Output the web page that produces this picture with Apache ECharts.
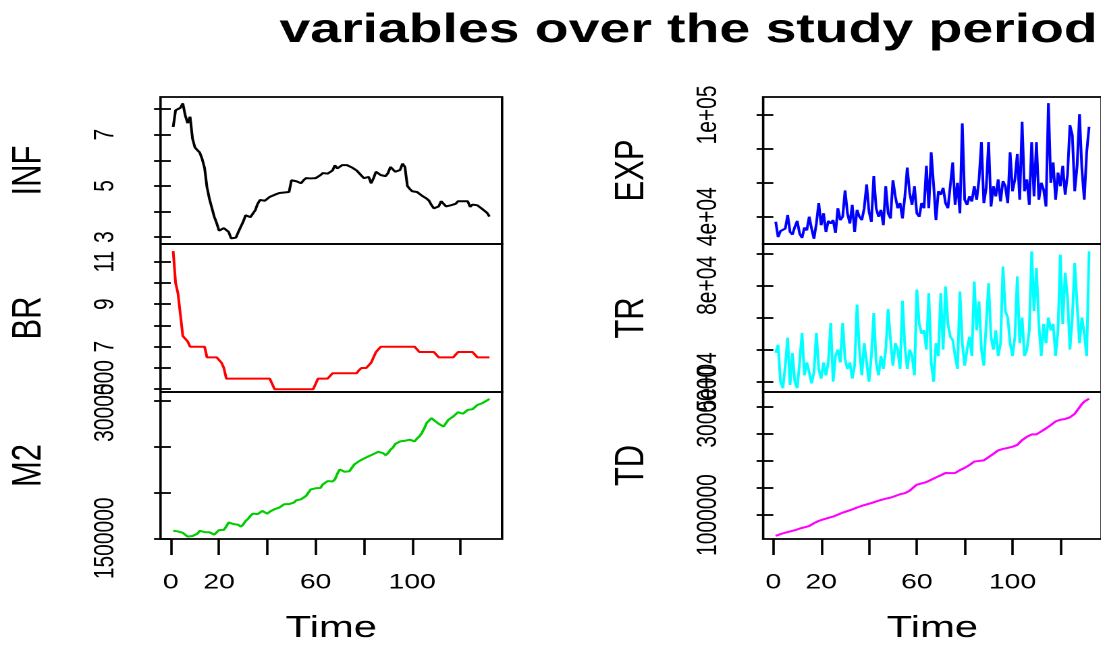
<!DOCTYPE html>
<html lang="en">
<head>
<meta charset="UTF-8">
<title>variables over the study period</title>
<script src="https://cdn.jsdelivr.net/npm/echarts@6/dist/echarts.min.js"></script>
<style>
    html, body { margin: 0; padding: 0; overflow: hidden; background: #fff; }
    /* the original R device output is stretched sideways, so draw narrow and widen */
    #main { width: 816px; height: 645px; transform: scaleX(1.35); transform-origin: 0 0; }
</style>
</head>
<body>
<div id="main"></div>
<script type="text/javascript">
    // monthly series, t = 1..132
    var INF = [7.3, 7.95, 8.0, 8.05, 8.22, 7.75, 7.45, 7.7, 6.85, 6.5, 6.4, 6.3,
        6.05, 5.7, 4.95, 4.5, 4.15, 3.8, 3.55, 3.25, 3.2, 3.35, 3.4, 3.2,
        2.95, 2.92, 2.98, 3.2, 3.4, 3.6, 3.85, 3.78, 3.78, 3.78, 4.05, 4.3,
        4.45, 4.4, 4.42, 4.45, 4.57, 4.6, 4.65, 4.7, 4.72, 4.74, 4.74, 4.74,
        4.76, 5.22, 5.15, 5.18, 5.13, 5.1, 5.22, 5.3, 5.35, 5.29, 5.35, 5.3,
        5.32, 5.42, 5.5, 5.55, 5.48, 5.55, 5.6, 5.8, 5.68, 5.75, 5.81, 5.81,
        5.81, 5.81, 5.72, 5.68, 5.6, 5.55, 5.4, 5.3, 5.3, 5.35, 5.1, 5.3,
        5.55, 5.6, 5.42, 5.42, 5.38, 5.5, 5.74, 5.74, 5.55, 5.58, 5.62, 5.87,
        5.74, 5.0, 4.88, 4.79, 4.77, 4.76, 4.7, 4.62, 4.57, 4.5, 4.42, 4.25,
        4.12, 4.05, 4.2, 4.4, 4.3, 4.2, 4.2, 4.24, 4.18, 4.3, 4.4, 4.4,
        4.4, 4.4, 4.4, 4.18, 4.27, 4.24, 4.24, 4.24, 4.1, 4.05, 3.95, 3.8];

    var BR = [11.5, 10, 9.5, 8.5, 7.5, 7.5, 7.25, 7, 7, 7, 7, 7,
        7, 7, 6.5, 6.5, 6.5, 6.5, 6.5, 6.5, 6.25, 6, 5.5, 5.5,
        5.5, 5.5, 5.5, 5.5, 5.5, 5.5, 5.5, 5.5, 5.5, 5.5, 5.5, 5.5,
        5.5, 5.5, 5.5, 5.5, 5.5, 5.5, 5, 5, 5, 5, 5, 5,
        5, 5, 5, 5, 5, 5, 5, 5, 5, 5, 5, 5.25,
        5.5, 5.5, 5.5, 5.5, 5.5, 5.5, 5.75, 5.75, 5.75, 5.75, 5.75, 5.75,
        5.75, 5.75, 5.75, 5.75, 5.75, 5.9, 6, 6, 6, 6, 6.25, 6.5,
        6.75, 6.75, 7, 7, 7, 7, 7, 7, 7, 7, 7, 7,
        7, 7, 7, 7, 7, 7, 6.75, 6.75, 6.75, 6.75, 6.75, 6.75,
        6.75, 6.75, 6.5, 6.5, 6.5, 6.5, 6.5, 6.5, 6.5, 6.5, 6.75, 6.75,
        6.75, 6.75, 6.75, 6.75, 6.75, 6.75, 6.5, 6.5, 6.5, 6.5, 6.5, 6.5];

    var M2 = [1582000, 1580000, 1575000, 1583000, 1560000, 1545000, 1518000, 1534000, 1525000, 1511000, 1550000, 1582000,
        1566000, 1568000, 1565000, 1566000, 1566000, 1540000, 1560000, 1590000, 1588000, 1592000, 1630000, 1673000,
        1662000, 1655000, 1652000, 1648000, 1626000, 1650000, 1690000, 1712000, 1745000, 1770000, 1782000, 1764000,
        1785000, 1799000, 1780000, 1768000, 1790000, 1799000, 1818000, 1810000, 1836000, 1830000, 1872000, 1866000,
        1874000, 1882000, 1890000, 1915000, 1910000, 1926000, 1945000, 1962000, 1999000, 2034000, 2045000, 2046000,
        2044000, 2050000, 2089000, 2100000, 2125000, 2106000, 2120000, 2143000, 2205000, 2252000, 2235000, 2227000,
        2226000, 2232000, 2252000, 2306000, 2320000, 2342000, 2355000, 2371000, 2380000, 2396000, 2410000, 2420000,
        2433000, 2445000, 2450000, 2430000, 2407000, 2430000, 2468000, 2490000, 2530000, 2540000, 2558000, 2562000,
        2565000, 2570000, 2577000, 2565000, 2558000, 2590000, 2613000, 2650000, 2700000, 2760000, 2776000, 2812000,
        2790000, 2776000, 2750000, 2740000, 2720000, 2704000, 2794000, 2810000, 2830000, 2850000, 2877000, 2884000,
        2860000, 2840000, 2902000, 2921000, 2910000, 2902000, 2956000, 2962000, 2975000, 2990000, 3005000, 3022000];

    var EXP = [37000, 28000, 31500, 31000, 33000, 41000, 31000, 29500, 34000, 37500, 30000, 27500,
        33500, 32000, 40000, 33000, 27000, 36000, 48000, 35000, 42000, 31000, 37500, 36000,
        38000, 30500, 45000, 38000, 40000, 55500, 42000, 36000, 47000, 31000, 44000, 40000,
        38000, 45000, 59000, 43000, 37000, 64000, 45000, 40000, 44000, 35000, 58000, 42000,
        39000, 61500, 52000, 45000, 48000, 39000, 52000, 69000, 54000, 47000, 58000, 42000,
        40000, 48000, 45000, 70000, 45000, 78000, 59000, 38000, 55000, 53000, 57000, 48000,
        45000, 44000, 72000, 47000, 60000, 42000, 95000, 50000, 47000, 52000, 49000, 58000,
        50000, 62000, 84000, 48000, 57000, 84000, 46000, 58000, 52000, 62000, 49000, 61000,
        58000, 48000, 78000, 55000, 62000, 77000, 50000, 96000, 55000, 62000, 47000, 84000,
        52000, 84000, 50000, 60000, 56000, 46000, 107000, 60000, 72000, 50000, 66000, 58000,
        70000, 53000, 65000, 94000, 88000, 55000, 70000, 100500, 68000, 50000, 78000, 93000];

    var TR = [59000, 61500, 50000, 48000, 55000, 63700, 49000, 58900, 50000, 48000, 56000, 65200,
        52000, 56000, 53000, 49500, 53000, 65200, 54000, 51000, 56000, 52000, 56000, 68300,
        50000, 58000, 60000, 56000, 68300, 57000, 54000, 56000, 51000, 55000, 74000, 60000,
        52000, 62000, 56000, 50000, 58000, 71400, 56000, 52000, 58000, 54000, 60000, 72600,
        63000, 55000, 62000, 60000, 54000, 75200, 61000, 54000, 60000, 58000, 52000, 78700,
        68000, 65000, 66000, 60000, 77600, 56000, 50000, 62000, 58000, 77600, 60000, 79700,
        68000, 64000, 63000, 58000, 54000, 78100, 62000, 55000, 60000, 64000, 58000, 81200,
        66000, 75000, 60000, 55000, 68000, 80700, 64000, 60000, 66000, 58000, 62000, 85900,
        72000, 70000, 62000, 58000, 64000, 82800, 62000, 70000, 58000, 60000, 66000, 90600,
        72000, 85400, 68000, 58000, 68000, 62000, 70000, 66000, 68000, 58000, 66000, 89600,
        68000, 83900, 76000, 60000, 70000, 87000, 74000, 62000, 70000, 65000, 58000, 90600];

    var TD = [615000, 632000, 648000, 662000, 675000, 685000, 697000, 706000, 720000, 736000, 750000, 762000,
        774000, 786000, 798000, 820000, 850000, 878000, 893000, 908000, 922000, 935000, 948000, 962000,
        972000, 990000, 1008000, 1027000, 1044000, 1060000, 1074000, 1090000, 1104000, 1122000, 1140000, 1158000,
        1170000, 1182000, 1196000, 1209000, 1222000, 1238000, 1252000, 1269000, 1280000, 1292000, 1302000, 1312000,
        1322000, 1333000, 1352000, 1375000, 1385000, 1395000, 1404000, 1412000, 1450000, 1489000, 1525000, 1562000,
        1572000, 1585000, 1595000, 1610000, 1632000, 1652000, 1672000, 1695000, 1714000, 1735000, 1760000, 1777000,
        1778000, 1774000, 1778000, 1777000, 1800000, 1830000, 1850000, 1872000, 1895000, 1925000, 1958000, 1988000,
        1995000, 2000000, 2002000, 2010000, 2040000, 2070000, 2098000, 2130000, 2165000, 2195000, 2210000, 2222000,
        2232000, 2240000, 2245000, 2262000, 2280000, 2295000, 2340000, 2385000, 2420000, 2445000, 2470000, 2490000,
        2505000, 2490000, 2515000, 2545000, 2570000, 2600000, 2632000, 2662000, 2695000, 2730000, 2753000, 2760000,
        2768000, 2775000, 2784000, 2805000, 2830000, 2870000, 2930000, 2990000, 3050000, 3095000, 3120000, 3150000];

    // time axis ticks / labels (R drops 40, 80, 120 because they would overlap)
    var timeTicks = [0, 20, 40, 60, 80, 100, 120];
    var timeLabels = [0, 20, 60, 100];

    var time = [];
    for (var k = 1; k <= INF.length; k++) time.push(k);

    var FONT = 'Liberation Sans, Arial, sans-serif';

    // one entry per panel: left column INF/BR/M2, right column EXP/TR/TD
    var panels = [
        {name: 'INF', data: INF, color: '#000000', col: 0, row: 0, min: 2.73, max: 8.47, ticks: [3, 4, 5, 6, 7, 8], labels: [3, 5, 7]},
        {name: 'BR', data: BR, color: '#FF0000', col: 0, row: 1, min: 4.87, max: 11.83, ticks: [5, 6, 7, 8, 9, 10, 11], labels: [5, 7, 9, 11]},
        {name: 'M2', data: M2, color: '#00CD00', col: 0, row: 2, min: 1492400, max: 3097600, ticks: [1500000, 2000000, 2500000, 3000000], labels: [1500000, 3000000]},
        {name: 'EXP', data: EXP, color: '#0000FF', col: 1, row: 0, min: 23900, max: 110600, ticks: [40000, 60000, 80000, 100000], labels: [40000, 100000], sci: true},
        {name: 'TR', data: TR, color: '#00FFFF', col: 1, row: 1, min: 46800, max: 92900, ticks: [50000, 60000, 70000, 80000, 90000], labels: [50000, 80000], sci: true},
        {name: 'TD', data: TD, color: '#FF00FF', col: 1, row: 2, min: 558000, max: 3273000, ticks: [1000000, 1500000, 2000000, 2500000, 3000000], labels: [1000000, 3000000]}
    ];

    var colLeft = [118.9, 565.3];
    var rowTop = [97, 244, 392];
    var rowHeight = [147, 148, 148];

    // R style labels: 4e+04, 1e+05
    function rSci(v) {
        var e = Math.floor(Math.log10(v));
        var m = Math.round(v / Math.pow(10, e) * 100) / 100;
        return m + 'e+' + (e < 10 ? '0' : '') + e;
    }

    var grids = [], xAxes = [], yAxes = [], series = [];
    panels.forEach(function (p, i) {
        var bottom = p.row === 2;
        grids.push({
            left: colLeft[p.col], top: rowTop[p.row], width: 253, height: rowHeight[p.row],
            show: true, borderColor: '#000', borderWidth: 1.8, backgroundColor: 'transparent'
        });
        xAxes.push({
            gridIndex: i, type: 'value', min: -4.24, max: 137.24,
            show: bottom,
            name: 'Time', nameLocation: 'middle', nameGap: 74,
            nameTextStyle: {fontSize: 31, color: '#000', fontFamily: FONT},
            axisLine: {show: false},
            splitLine: {show: false},
            axisTick: {show: true, length: 16, customValues: timeTicks, lineStyle: {color: '#000', width: 1.8}},
            axisLabel: {show: true, margin: 33, fontSize: 21, color: '#000', fontFamily: FONT, customValues: timeLabels}
        });
        yAxes.push({
            gridIndex: i, type: 'value', min: p.min, max: p.max,
            name: p.name, nameLocation: 'middle', nameGap: 82,
            nameTextStyle: {fontSize: 31, color: '#000', fontFamily: FONT},
            axisLine: {show: false},
            splitLine: {show: false},
            axisTick: {show: true, length: 12.4, customValues: p.ticks, lineStyle: {color: '#000', width: 1.8}},
            axisLabel: {
                show: true, rotate: 90, margin: 30, fontSize: 21, color: '#000', fontFamily: FONT,
                customValues: p.labels,
                formatter: function (v) { return p.sci ? rSci(v) : String(v); }
            }
        });
        series.push({
            type: 'line', name: p.name, xAxisIndex: i, yAxisIndex: i,
            data: time.map(function (t, j) { return [t, p.data[j]]; }),
            showSymbol: false, symbol: 'none', silent: true,
            lineStyle: {color: p.color, width: 2}
        });
    });

    var myChart = echarts.init(document.getElementById('main'), null, {devicePixelRatio: 2});
    myChart.setOption({
        animation: false,
        backgroundColor: '#fff',
        title: {
            text: 'variables over the study period',
            left: 202, top: 5,
            textStyle: {fontSize: 41, fontWeight: 'bold', color: '#000', fontFamily: FONT}
        },
        grid: grids,
        xAxis: xAxes,
        yAxis: yAxes,
        series: series
    });
</script>
</body>
</html>
